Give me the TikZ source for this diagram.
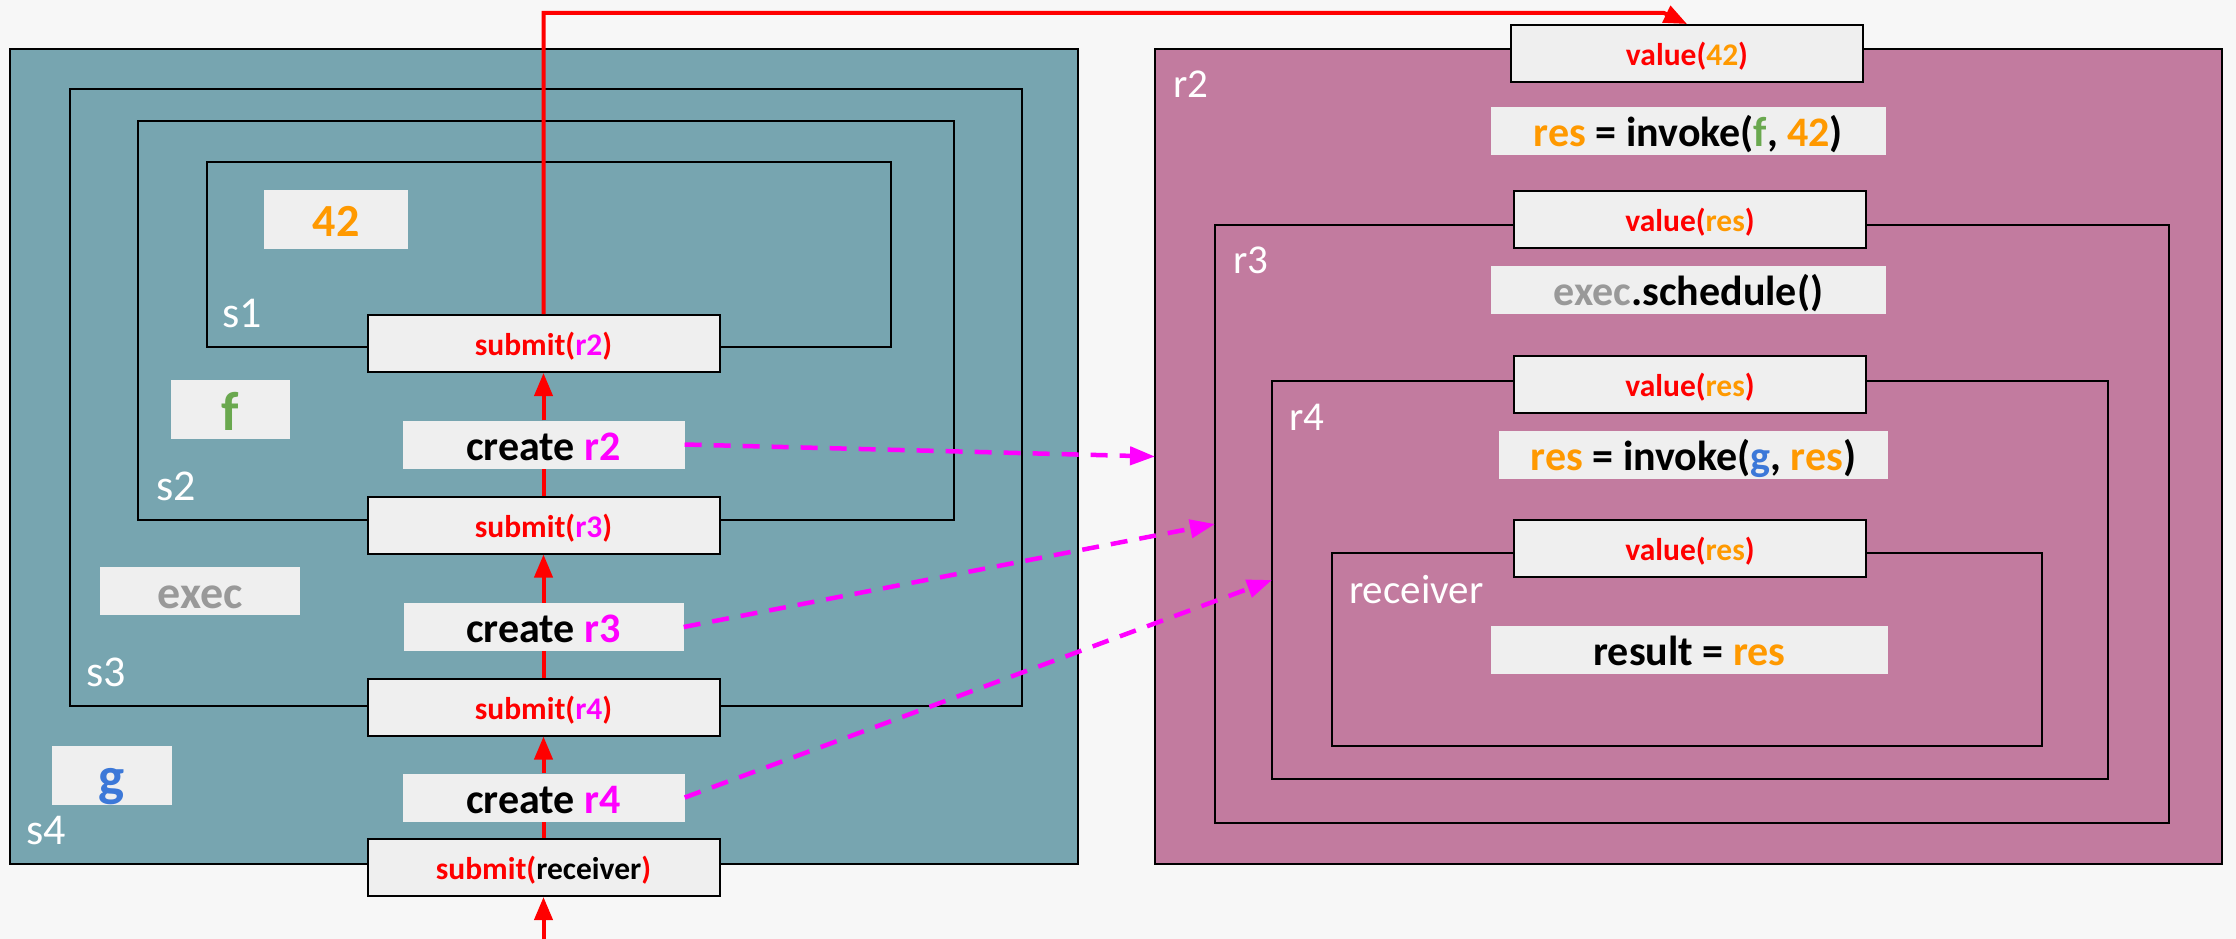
\documentclass[tikz,border=0pt]{standalone}
\usepackage{fontspec}
\setmainfont{Carlito}
\usetikzlibrary{arrows.meta}
\definecolor{bgcol}{HTML}{F7F7F7}
\definecolor{scopecol}{HTML}{77A5B0}
\definecolor{reqcol}{HTML}{C27B9F}
\definecolor{boxcol}{HTML}{EFEFEF}
\definecolor{redcol}{HTML}{FF0000}
\definecolor{magcol}{HTML}{FF00FF}
\definecolor{oracol}{HTML}{FF9900}
\definecolor{grncol}{HTML}{6AA84F}
\definecolor{blucol}{HTML}{3C78D8}
\definecolor{grycol}{HTML}{999999}
\newcommand{\cMag}[1]{\textcolor{magcol}{#1}}
\newcommand{\cOra}[1]{\textcolor{oracol}{#1}}
\newcommand{\cGrn}[1]{\textcolor{grncol}{#1}}
\newcommand{\cBlu}[1]{\textcolor{blucol}{#1}}
\newcommand{\cGry}[1]{\textcolor{grycol}{#1}}

\begin{document}
\begin{tikzpicture}[x=1pt, y=-1pt,
  cont/.style={draw=black, line width=2pt, inner sep=0pt, outer sep=0pt},
  scp/.style={cont, fill=scopecol},
  req/.style={cont, fill=reqcol},
  slbl/.style={anchor=base west, inner sep=0pt, text=white, font=\fontsize{44}{50}\selectfont},
  rlbl/.style={slbl, font=\fontsize{41}{48}\selectfont},
  callbox/.style={draw=black, line width=2pt, fill=boxcol, minimum width=352pt, minimum height=57pt, inner sep=0pt, text height=24pt, text depth=0pt, text=redcol, font=\bfseries\fontsize{31.5}{36}\selectfont},
  stmt/.style={fill=boxcol, minimum width=395pt, minimum height=48pt, inner sep=0pt, text height=31.5pt, text depth=0pt, font=\bfseries\fontsize{42}{48}\selectfont},
  val/.style={fill=boxcol, minimum height=59pt, inner sep=0pt, text height=34.5pt, text depth=0pt, font=\bfseries\fontsize{46}{52}\selectfont},
  big/.style={text height=41pt, font=\bfseries\fontsize{55}{60}\selectfont},
  flow/.style={redcol, line width=4pt},
  tip/.style={-{Triangle[length=23pt,width=18pt]}},
  link/.style={magcol, line width=4.5pt, dash pattern=on 17pt off 12pt, -{Triangle[length=25pt,width=18pt]}}
]
\path[use as bounding box, fill=bgcol] (0,0) rectangle (2236,939);

\node[scp, minimum width=1068pt, minimum height=815pt] (S4) at (544,456.5) {};
\node[scp, minimum width=952pt, minimum height=617pt] (S3) at (546,397.5) {};
\node[scp, minimum width=816pt, minimum height=399pt] (S2) at (546,320.5) {};
\node[scp, minimum width=684pt, minimum height=185pt] (S1) at (549,254.5) {};
\node[req, minimum width=1067pt, minimum height=815pt] (R2) at (1688.5,456.5) {};
\node[req, minimum width=954pt, minimum height=598pt] (R3) at (1692,524) {};
\node[req, minimum width=836pt, minimum height=398pt] (R4) at (1690,580) {};
\node[req, minimum width=710pt, minimum height=193pt] (Recv) at (1687,649.5) {};

\node[slbl] (S1l) at (222,327) {s1};
\node[slbl] (S2l) at (156,500) {s2};
\node[slbl] (S3l) at (86,686) {s3};
\node[slbl] (S4l) at (26,844) {s4};
\node[rlbl] (R2l) at (1173,98) {r2};
\node[rlbl] (R3l) at (1233,273) {r3};
\node[rlbl] (R4l) at (1289,430) {r4};
\node[rlbl] (Recvl) at (1349,603) {receiver};

\node[val, minimum width=144pt] (N42) at (336,219.5) {\cOra{42}};
\node[val, big, minimum width=119pt] (Nf) at (230.5,409.5) {\cGrn{f}};
\node[val, minimum width=200pt, minimum height=48pt] (Nexec) at (200,591) {\cGry{exec}};
\node[val, big, minimum width=120pt] (Ng) at (111.5,775) {\cBlu{g}};

\node[callbox] (Sub2) at (543.5,343.5) {submit(\cMag{r2})};
\node[callbox] (Sub3) at (543.5,525) {submit(\cMag{r3})};
\node[callbox] (Sub4) at (543.5,707) {submit(\cMag{r4})};
\node[callbox] (SubRecv) at (543.5,867.5) {submit(\textcolor{black}{receiver})};
\node[stmt, minimum width=282pt] (Cr2) at (543.5,444.5) {create \cMag{r2}};
\node[stmt, minimum width=280pt] (Cr3) at (543.5,627) {create \cMag{r3}};
\node[stmt, minimum width=282pt] (Cr4) at (543.5,797.5) {create \cMag{r4}};

\node[callbox] (V42) at (1687,53.5) {value(\cOra{42})};
\node[stmt] (Inv1) at (1688.5,131) {\cOra{res} = invoke(\cGrn{f}, \cOra{42})};
\node[callbox] (V3) at (1690,219.5) {value(\cOra{res})};
\node[stmt] (Sched) at (1688.5,290) {\cGry{exec}.schedule()};
\node[callbox] (V4) at (1690,384.5) {value(\cOra{res})};
\node[stmt, minimum width=389pt] (Inv2) at (1693.5,455) {\cOra{res} = invoke(\cBlu{g}, \cOra{res})};
\node[callbox] (V5) at (1690,548.5) {value(\cOra{res})};
\node[stmt, minimum width=397pt] (Res) at (1689.5,649.5) {result = \cOra{res}};

\coordinate (In) at (543.5,939);
\coordinate (Turn) at (1664,13);
\draw[flow, tip] (In) -- (SubRecv);
\draw[flow] (SubRecv) -- (Cr4);
\draw[flow, tip] (Cr4) -- (Sub4);
\draw[flow] (Sub4) -- (Cr3);
\draw[flow, tip] (Cr3) -- (Sub3);
\draw[flow] (Sub3) -- (Cr2);
\draw[flow, tip] (Cr2) -- (Sub2);
\draw[flow, tip] (Sub2.north) |- (Turn) -- (V42.north);

\draw[link] (Cr2.east) -- (R2.west);
\draw[link] (Cr3.east) -- (R3.west);
\draw[link] (Cr4.east) -- (R4.west);
\end{tikzpicture}
\end{document}
